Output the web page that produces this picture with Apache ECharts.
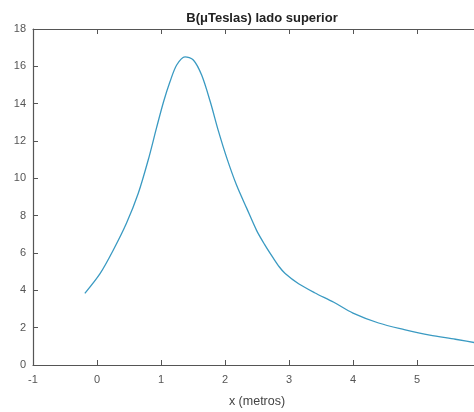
<!DOCTYPE html>
<html>
<head>
<meta charset="utf-8">
<script src="https://cdn.jsdelivr.net/npm/echarts@6/dist/echarts.min.js"></script>
<style>html,body{margin:0;padding:0;background:#fff;}#c{width:474px;height:412px;}</style>
</head>
<body>
<div id="c"></div>
<script>
const titleText = "B(\u03bcTeslas) lado superior";
const xName = "x (metros)";
const xValues = [-0.19, 0.05, 0.255, 0.46, 0.645, 0.80, 0.93, 1.04, 1.14, 1.245, 1.375, 1.505, 1.635, 1.77, 1.9, 2.03, 2.18, 2.34, 2.495, 2.62, 2.75, 2.85, 2.94, 3.15, 3.4, 3.7, 4.0, 4.4, 4.8, 5.2, 5.6, 6.0];
const yValues = [3.84, 4.91, 6.16, 7.59, 9.2, 10.98, 12.7, 14.1, 15.17, 16.07, 16.51, 16.34, 15.53, 14.1, 12.5, 11.07, 9.64, 8.39, 7.2, 6.45, 5.75, 5.25, 4.9, 4.35, 3.87, 3.36, 2.78, 2.25, 1.9, 1.6, 1.38, 1.14];

const data = xValues.map((x, i) => [x, yValues[i]]);
const axisColor = '#555555';
const chart = echarts.init(document.getElementById('c'), null, {renderer: 'canvas'});
chart.setOption({
  animation: false,
  backgroundColor: '#ffffff',
  title: {
    text: titleText,
    left: 257, top: 7, textAlign: 'center',
    textStyle: {fontFamily: 'Arial', fontSize: 13, fontWeight: 'bold', color: '#222'}
  },
  grid: {left: 33, top: 29, width: 448, height: 336, outerBoundsMode: 'none', containLabel: false},
  xAxis: [{
    type: 'value', min: -1, max: 6, interval: 1,
    name: xName, nameLocation: 'middle', nameGap: 30,
    nameTextStyle: {fontFamily: 'Arial', fontSize: 12.5, color: '#444'},
    axisLine: {show: true, onZero: false, lineStyle: {color: axisColor, width: 1.2}},
    axisTick: {show: true, inside: true, length: 5, lineStyle: {color: axisColor}},
    axisLabel: {fontFamily: 'Arial', fontSize: 11, color: '#555', margin: 9},
    splitLine: {show: false}
  }, {
    type: 'value', min: -1, max: 6, interval: 1, position: 'top',
    axisLine: {show: true, onZero: false, lineStyle: {color: axisColor, width: 1}},
    axisTick: {show: true, inside: true, length: 5, lineStyle: {color: axisColor}},
    axisLabel: {show: false},
    splitLine: {show: false}
  }],
  yAxis: {
    type: 'value', min: 0, max: 18, interval: 2,
    axisLine: {show: true, onZero: false, lineStyle: {color: axisColor, width: 1.2}},
    axisTick: {show: true, inside: true, length: 5, lineStyle: {color: axisColor}},
    axisLabel: {fontFamily: 'Arial', fontSize: 11, color: '#555', margin: 7},
    splitLine: {show: false}
  },
  series: [{
    type: 'line', data: data, xAxisIndex: 0,
    smooth: 0.3, showSymbol: false,
    lineStyle: {color: '#3a9ac2', width: 1.3}
  }]
});
</script>
</body>
</html>
